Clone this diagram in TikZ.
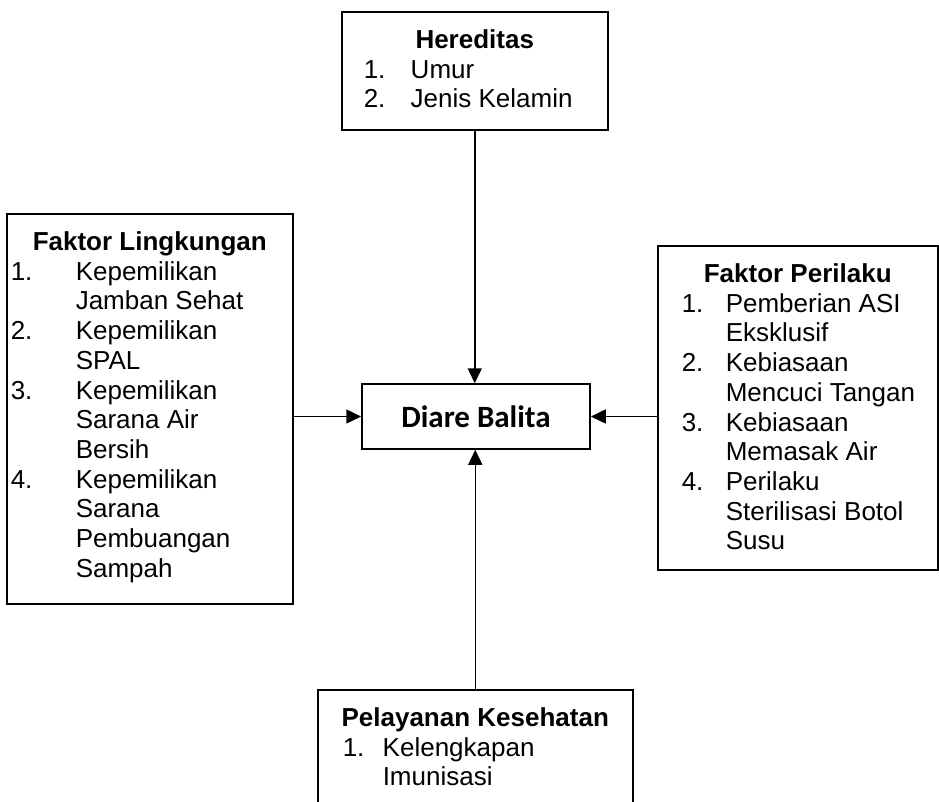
\documentclass[tikz,border=0pt]{standalone}
\usepackage{fontspec}
\setmainfont{Liberation Sans}
\newfontfamily\calibri{Carlito}
\usetikzlibrary{arrows.meta}
\usetikzlibrary{positioning}

% box text: width, height, left pad, number column, title, items
\newcommand{\isi}[6]{%
  \parbox[c][#2pt][t]{#1pt}{\vspace*{16pt}%
  \begin{tabular}{@{\hspace{#3pt}}p{#4pt}@{}l@{}}
  \multicolumn{2}{@{}c@{}}{\makebox[#1pt]{\bfseries #5}}\\
  #6
  \end{tabular}}}

\tikzset{
  faktor/.style={draw=black, line width=1.5pt, inner sep=0pt, anchor=north west,
    font=\fontsize{26}{29.7}\selectfont},
  pusat/.style={draw=black, line width=1.5pt, minimum width=228pt, minimum height=65pt,
    font=\calibri\bfseries\fontsize{31}{36}\selectfont},
  panah/.style={-{Triangle[length=15pt,width=14pt]}, line width=1.5pt}
}

\begin{document}
\begin{tikzpicture}[x=1pt,y=-1pt]
    \clip (0,0) rectangle (939,801);
    % Boxes
    \node[faktor] (hered) at (341,11) {\isi{266}{118}{22}{47}{Hereditas}{%
      1. & Umur\\
      2. & Jenis Kelamin}};
    \node[faktor] (lingk) at (6,213) {\isi{286}{390}{4}{65}{Faktor Lingkungan}{%
      1. & Kepemilikan\\
         & Jamban Sehat\\
      2. & Kepemilikan\\
         & SPAL\\
      3. & Kepemilikan\\
         & Sarana Air\\
         & Bersih\\
      4. & Kepemilikan\\
         & Sarana\\
         & Pembuangan\\
         & Sampah}};
    \node[faktor] (perilaku) at (657,245) {\isi{280}{324}{24}{44}{Faktor Perilaku}{%
      1. & Pemberian ASI\\
         & Eksklusif\\
      2. & Kebiasaan\\
         & Mencuci Tangan\\
      3. & Kebiasaan\\
         & Memasak Air\\
      4. & Perilaku\\
         & Sterilisasi Botol\\
         & Susu}};
    \node[faktor] (yankes) at (317,689) {\isi{315}{150}{25}{40}{Pelayanan Kesehatan}{%
      1. & Kelengkapan\\
         & Imunisasi}};
    \node[pusat] (diare) at (476,416.5) {Diare Balita};
    % Arrows
    \draw[panah] (hered.south) -- (hered.south |- diare.north);
    \draw[panah] (yankes.north) -- (yankes.north |- diare.south);
    \draw[panah] (lingk.east |- diare.west) -- (diare.west);
    \draw[panah] (perilaku.west |- diare.east) -- (diare.east);
\end{tikzpicture}
\end{document}
